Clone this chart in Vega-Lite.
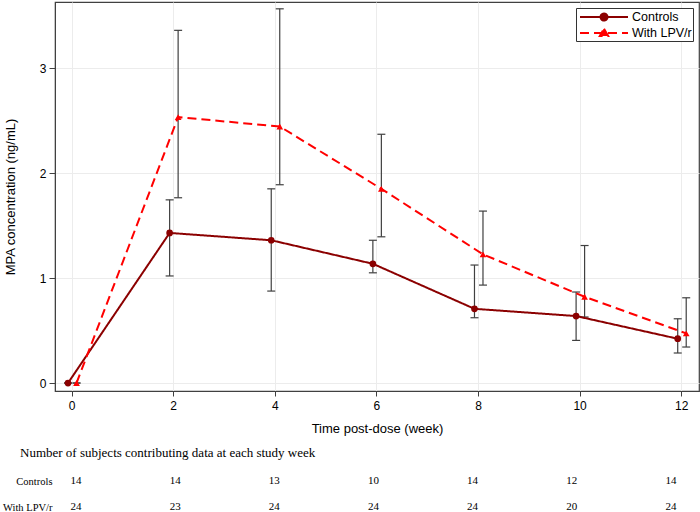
{
  "$schema": "https://vega.github.io/schema/vega-lite/v6.json",
  "background": "white",
  "padding": {"left": 2, "top": 1, "right": 1, "bottom": 0},
  "spacing": 11,
  "config": {
    "font": "Liberation Sans",
    "axis": {"labelFont": "Liberation Sans", "titleFont": "Liberation Sans", "labelColor": "#000", "titleColor": "#000", "titleFontWeight": "normal"}
  },
  "datasets": {
    "conc": [
      {"group": "Controls", "week": 0, "mean": 0, "lo": 0, "hi": 0},
      {"group": "Controls", "week": 2, "mean": 1.43, "lo": 1.02, "hi": 1.745},
      {"group": "Controls", "week": 4, "mean": 1.36, "lo": 0.876, "hi": 1.85},
      {"group": "Controls", "week": 6, "mean": 1.136, "lo": 1.05, "hi": 1.36},
      {"group": "Controls", "week": 8, "mean": 0.707, "lo": 0.622, "hi": 1.124},
      {"group": "Controls", "week": 10, "mean": 0.638, "lo": 0.406, "hi": 0.867},
      {"group": "Controls", "week": 12, "mean": 0.422, "lo": 0.286, "hi": 0.612},
      {"group": "With LPV/r", "week": 0, "mean": 0, "lo": 0, "hi": 0},
      {"group": "With LPV/r", "week": 2, "mean": 2.533, "lo": 1.765, "hi": 3.36},
      {"group": "With LPV/r", "week": 4, "mean": 2.444, "lo": 1.889, "hi": 3.565},
      {"group": "With LPV/r", "week": 6, "mean": 1.85, "lo": 1.393, "hi": 2.37},
      {"group": "With LPV/r", "week": 8, "mean": 1.226, "lo": 0.933, "hi": 1.638},
      {"group": "With LPV/r", "week": 10, "mean": 0.822, "lo": 0.629, "hi": 1.31},
      {"group": "With LPV/r", "week": 12, "mean": 0.473, "lo": 0.343, "hi": 0.812}
    ],
    "subjects": [
      {"row": "Controls", "week": 0, "n": 14},
      {"row": "Controls", "week": 2, "n": 14},
      {"row": "Controls", "week": 4, "n": 13},
      {"row": "Controls", "week": 6, "n": 10},
      {"row": "Controls", "week": 8, "n": 14},
      {"row": "Controls", "week": 10, "n": 12},
      {"row": "Controls", "week": 12, "n": 14},
      {"row": "With LPV/r", "week": 0, "n": 24},
      {"row": "With LPV/r", "week": 2, "n": 23},
      {"row": "With LPV/r", "week": 4, "n": 24},
      {"row": "With LPV/r", "week": 6, "n": 24},
      {"row": "With LPV/r", "week": 8, "n": 24},
      {"row": "With LPV/r", "week": 10, "n": 20},
      {"row": "With LPV/r", "week": 12, "n": 24}
    ]
  },
  "vconcat": [
    {
      "width": 644,
      "height": 389,
      "view": {"stroke": "#404040", "strokeWidth": 1.2},
      "data": {"name": "conc"},
      "encoding": {
        "x": {
          "field": "week", "type": "quantitative",
          "scale": {"domain": [-0.325, 12.35], "nice": false, "zero": false},
          "axis": {"values": [0, 2, 4, 6, 8, 10, 12], "format": "d", "title": "Time post-dose (week)", "grid": true, "gridColor": "#ececec", "domainColor": "#404040", "tickColor": "#404040", "tickSize": 5, "labelFontSize": 12, "labelPadding": 4, "titleFontSize": 13, "titlePadding": 11, "labelFlush": false}
        }
      },
      "layer": [
        {
          "transform": [{"filter": "datum.group === 'Controls'"}],
          "mark": {"type": "rule", "xOffset": -3.5, "color": "#404040", "strokeWidth": 1.2},
          "encoding": {
            "y": {"field": "lo", "type": "quantitative", "scale": {"domain": [-0.076, 3.63], "nice": false, "zero": false},
              "axis": {"values": [0, 1, 2, 3], "format": "d", "title": "MPA concentration (ng/mL)", "grid": true, "gridColor": "#ececec", "domainColor": "#404040", "tickColor": "#404040", "tickSize": 6, "labelFontSize": 12, "labelPadding": 3, "titleFontSize": 13, "titlePadding": 22}},
            "y2": {"field": "hi"}
          }
        },
        {
          "transform": [{"filter": "datum.group === 'With LPV/r'"}],
          "mark": {"type": "rule", "xOffset": 5, "color": "#404040", "strokeWidth": 1.2},
          "encoding": {"y": {"field": "lo", "type": "quantitative"}, "y2": {"field": "hi"}}
        },
        {
          "transform": [{"filter": "datum.group === 'Controls'"}],
          "mark": {"type": "tick", "orient": "horizontal", "xOffset": -3.5, "size": 8, "thickness": 1.2, "color": "#404040", "opacity": 1},
          "encoding": {"y": {"field": "lo", "type": "quantitative"}}
        },
        {
          "transform": [{"filter": "datum.group === 'Controls'"}],
          "mark": {"type": "tick", "orient": "horizontal", "xOffset": -3.5, "size": 8, "thickness": 1.2, "color": "#404040", "opacity": 1},
          "encoding": {"y": {"field": "hi", "type": "quantitative"}}
        },
        {
          "transform": [{"filter": "datum.group === 'With LPV/r'"}],
          "mark": {"type": "tick", "orient": "horizontal", "xOffset": 5, "size": 8, "thickness": 1.2, "color": "#404040", "opacity": 1},
          "encoding": {"y": {"field": "lo", "type": "quantitative"}}
        },
        {
          "transform": [{"filter": "datum.group === 'With LPV/r'"}],
          "mark": {"type": "tick", "orient": "horizontal", "xOffset": 5, "size": 8, "thickness": 1.2, "color": "#404040", "opacity": 1},
          "encoding": {"y": {"field": "hi", "type": "quantitative"}}
        },
        {
          "transform": [{"filter": "datum.group === 'Controls'"}],
          "mark": {"type": "line", "xOffset": -3.5, "strokeWidth": 2},
          "encoding": {
            "y": {"field": "mean", "type": "quantitative"},
            "color": {"field": "group", "type": "nominal", "scale": {"domain": ["Controls", "With LPV/r"], "range": ["#8B0000", "#FF0000"]},
              "legend": {"title": null, "orient": "top-right", "offset": 6, "padding": 1, "strokeColor": "#333", "fillColor": "#fff", "symbolSize": 196, "symbolStrokeWidth": 2, "symbolOffset": 19, "labelOffset": 20, "labelFontSize": 12.5, "labelFont": "Liberation Sans", "labelColor": "#000", "rowPadding": -3,
                "encode": {"symbols": {"update": {
                  "shape": {"signal": "datum.value === 'Controls' ? 'M-3.43,0L3.43,0M-0.5,0A0.5,0.5,0,1,0,0.5,0A0.5,0.5,0,1,0,-0.5,0Z' : 'M-3.43,0L3.43,0M0,-0.62L0.6,0.42L-0.6,0.42Z'"},
                  "fill": {"signal": "datum.value === 'Controls' ? '#8B0000' : '#FF0000'"},
                  "fillOpacity": {"value": 1}
                }}}}},
            "strokeDash": {"field": "group", "type": "nominal", "scale": {"domain": ["Controls", "With LPV/r"], "range": [[1, 0], [9, 5]]},
              "legend": {"title": null, "orient": "top-right", "offset": 6, "padding": 1, "strokeColor": "#333", "fillColor": "#fff", "symbolSize": 196, "symbolStrokeWidth": 2, "symbolOffset": 19, "labelOffset": 20, "labelFontSize": 12.5, "labelFont": "Liberation Sans", "labelColor": "#000", "rowPadding": -3,
                "encode": {"symbols": {"update": {
                  "shape": {"signal": "datum.value === 'Controls' ? 'M-3.43,0L3.43,0M-0.5,0A0.5,0.5,0,1,0,0.5,0A0.5,0.5,0,1,0,-0.5,0Z' : 'M-3.43,0L3.43,0M0,-0.62L0.6,0.42L-0.6,0.42Z'"},
                  "fill": {"signal": "datum.value === 'Controls' ? '#8B0000' : '#FF0000'"},
                  "fillOpacity": {"value": 1}
                }}}}}
          }
        },
        {
          "transform": [{"filter": "datum.group === 'With LPV/r'"}],
          "mark": {"type": "line", "xOffset": 5, "strokeWidth": 2},
          "encoding": {
            "y": {"field": "mean", "type": "quantitative"},
            "color": {"field": "group", "type": "nominal"},
            "strokeDash": {"field": "group", "type": "nominal"}
          }
        },
        {
          "transform": [{"filter": "datum.group === 'Controls'"}],
          "mark": {"type": "point", "xOffset": -3.5, "filled": true, "shape": "circle", "size": 45, "color": "#8B0000", "opacity": 1},
          "encoding": {"y": {"field": "mean", "type": "quantitative"}}
        },
        {
          "transform": [{"filter": "datum.group === 'With LPV/r'"}],
          "mark": {"type": "point", "xOffset": 5, "filled": true, "shape": "triangle-up", "size": 45, "color": "#FF0000", "opacity": 1},
          "encoding": {"y": {"field": "mean", "type": "quantitative"}}
        }
      ]
    },
    {
      "width": 644,
      "height": 26,
      "view": {"stroke": null},
      "data": {"name": "subjects"},
      "title": {"text": "Number of subjects contributing data at each study week", "anchor": "start", "frame": "group", "font": "Liberation Serif", "fontSize": 13, "fontWeight": "normal", "color": "#000", "dx": -35, "offset": 15},
      "mark": {"type": "text", "font": "Liberation Serif", "fontSize": 11, "color": "#000"},
      "encoding": {
        "x": {"field": "week", "type": "quantitative", "scale": {"domain": [-0.4235, 12.566], "nice": false, "zero": false}, "axis": null},
        "y": {"field": "row", "type": "nominal", "scale": {"type": "point", "domain": ["Controls", "With LPV/r"], "padding": 0},
          "axis": {"title": null, "domain": false, "ticks": false, "grid": false, "labelPadding": 3, "labelFont": "Liberation Serif", "labelFontSize": 10.5, "labelColor": "#000"}},
        "text": {"field": "n", "type": "quantitative"}
      }
    }
  ],
  "resolve": {"scale": {"x": "independent"}}
}
